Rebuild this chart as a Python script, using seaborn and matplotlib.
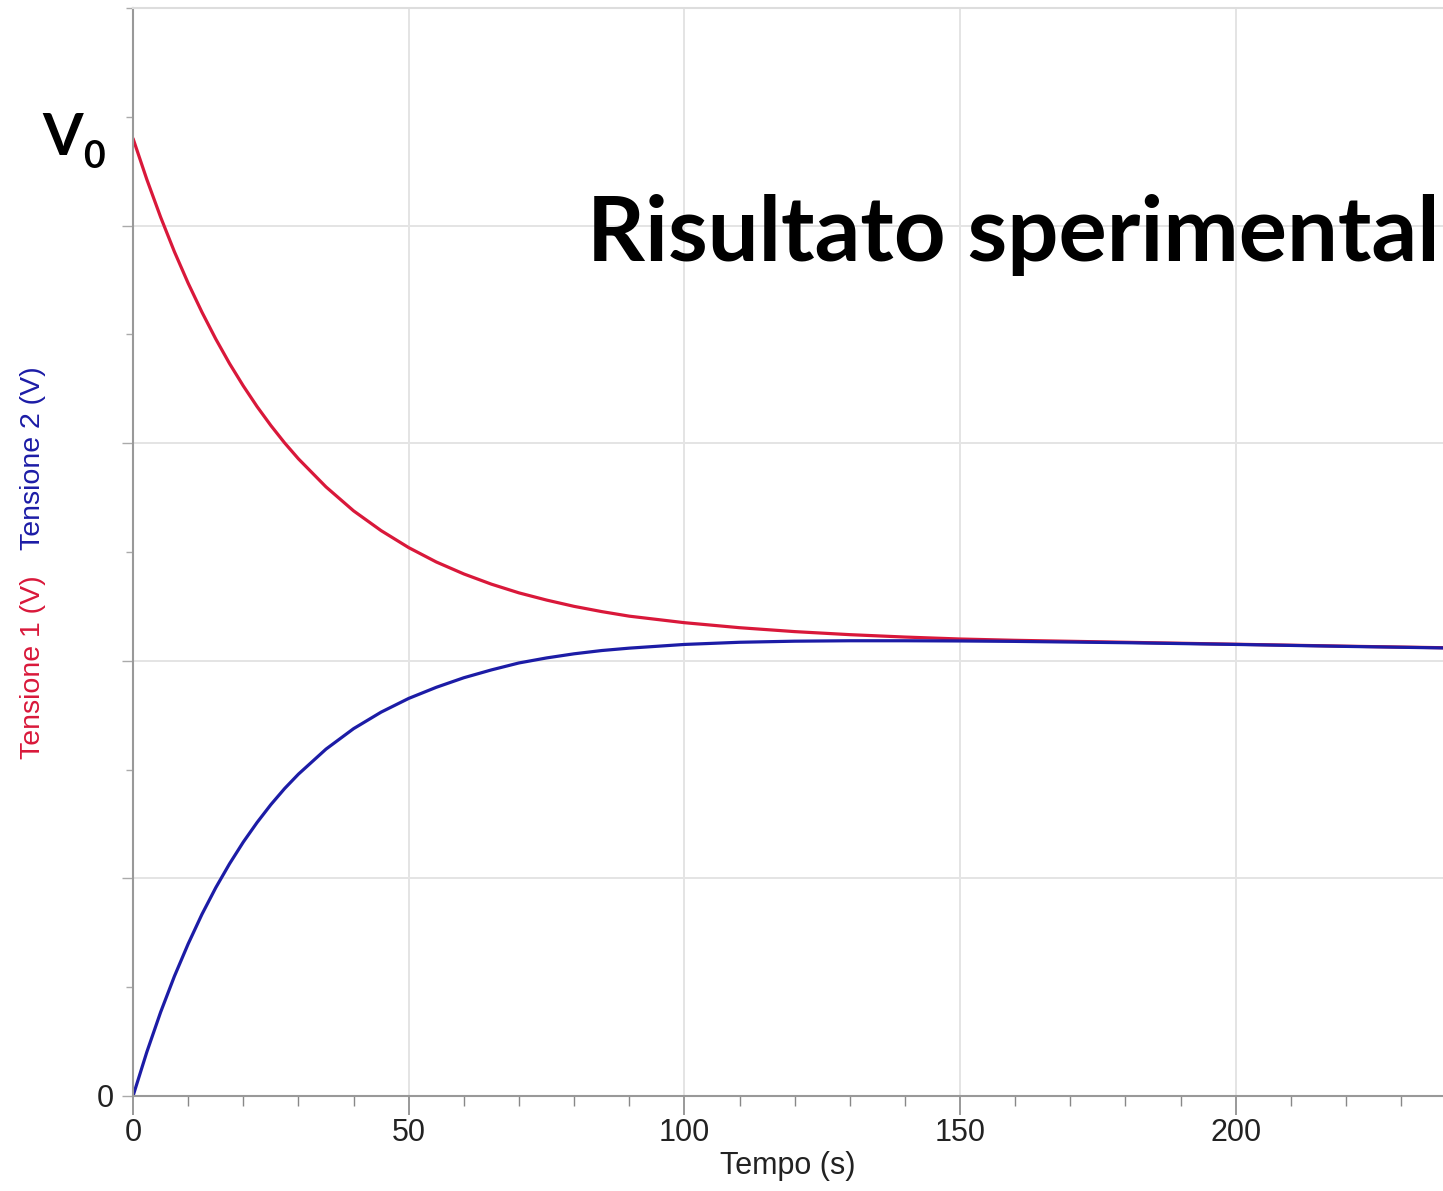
import numpy as np
import pandas as pd
import matplotlib
matplotlib.use("Agg")
import matplotlib.pyplot as plt
from matplotlib.ticker import MultipleLocator
import seaborn as sns

# Data (time in s, voltage in graph units)
tempo = [0, 2.5, 5, 7.5, 10, 12.5, 15, 17.5, 20, 22.5, 25, 27.5, 30, 35, 40,
         45, 50, 55, 60, 65, 70, 75, 80, 85, 90,
         100, 110, 120, 130, 140, 150, 160, 180, 200, 220, 240]
tensione_1 = [4.400, 4.212, 4.039, 3.880, 3.735, 3.602, 3.479, 3.366, 3.263,
              3.168, 3.081, 3.001, 2.928, 2.799, 2.689,
              2.598, 2.520, 2.454, 2.399, 2.352, 2.312, 2.279, 2.250, 2.226, 2.205,
              2.175, 2.152, 2.134, 2.120, 2.109, 2.100, 2.094, 2.085, 2.076,
              2.067, 2.059]
tensione_2 = [0.000, 0.202, 0.385, 0.550, 0.699, 0.835, 0.957, 1.067, 1.167,
              1.257, 1.339, 1.413, 1.479, 1.594, 1.688,
              1.764, 1.827, 1.878, 1.922, 1.958, 1.990, 2.013, 2.032, 2.047, 2.058,
              2.075, 2.085, 2.090, 2.092, 2.092, 2.091, 2.089, 2.083, 2.075,
              2.066, 2.058]

df = pd.DataFrame({
    "Tempo": tempo * 2,
    "Tensione": tensione_1 + tensione_2,
    "Serie": ["Tensione 1"] * len(tempo) + ["Tensione 2"] * len(tempo),
})

sns.set_style("white")
plt.rcParams["font.family"] = ["Liberation Sans", "DejaVu Sans"]

red = "#d9183a"
blue = "#1c1ca6"

fig = plt.figure(figsize=(14.43, 11.91), dpi=100)
ax = fig.add_axes([0.0922, 0.0798, 1 - 0.0922, 0.9933 - 0.0798])

sns.lineplot(data=df, x="Tempo", y="Tensione", hue="Serie",
             palette={"Tensione 1": red, "Tensione 2": blue},
             linewidth=2.3, legend=False, ax=ax)

ax.set_xlim(0, 237.6)
ax.set_ylim(0, 5)

ax.xaxis.set_major_locator(MultipleLocator(50))
ax.xaxis.set_minor_locator(MultipleLocator(10))
ax.set_yticks([0, 1, 2, 3, 4])
ax.set_yticklabels(["0", "", "", "", ""])
ax.yaxis.set_minor_locator(MultipleLocator(0.5))

ax.grid(True, which="major", color="#e4e4e4", linewidth=1.4)
ax.tick_params(which="both", bottom=True, left=True)
ax.tick_params(axis="x", which="major", direction="out", length=14,
               width=1.2, color="#888888", labelsize=22, pad=2,
               labelcolor="#222222")
ax.tick_params(axis="x", which="minor", direction="out", length=7,
               width=1.0, color="#888888")
ax.tick_params(axis="y", which="major", direction="out", length=8,
               width=1.0, color="#aaaaaa", labelsize=22, pad=6,
               labelcolor="#222222")
ax.tick_params(axis="y", which="minor", direction="out", length=5,
               width=1.0, color="#aaaaaa")

for side in ["left", "bottom"]:
    ax.spines[side].set_color("#999999")
    ax.spines[side].set_linewidth(1.5)
ax.spines["top"].set_color("#dddddd")
ax.spines["top"].set_linewidth(1.5)
ax.spines["right"].set_visible(False)

ax.set_xlabel("Tempo (s)", fontsize=22, color="#222222", labelpad=2)
ax.set_ylabel("")

# two-coloured y label
fig.text(0.023, 0.44, "Tensione 1 (V)", rotation=90, color=red,
         fontsize=20.5, ha="center", va="center")
fig.text(0.023, 0.615, "Tensione 2 (V)", rotation=90, color=blue,
         fontsize=20.5, ha="center", va="center")

# annotations
fig.text(0.029, 0.870, "V", fontsize=42, fontweight="bold",
         family=["Lato", "DejaVu Sans"], color="black", ha="left", va="baseline")
fig.text(0.0575, 0.859, "0", fontsize=27, fontweight="bold",
         family=["Lato", "DejaVu Sans"], color="black", ha="left", va="baseline")
fig.text(0.998, 0.781, "Risultato sperimental", fontsize=65, fontweight="bold",
         family=["Lato", "DejaVu Sans"], color="black", ha="right", va="baseline")

fig.savefig("out.png", dpi=100)
